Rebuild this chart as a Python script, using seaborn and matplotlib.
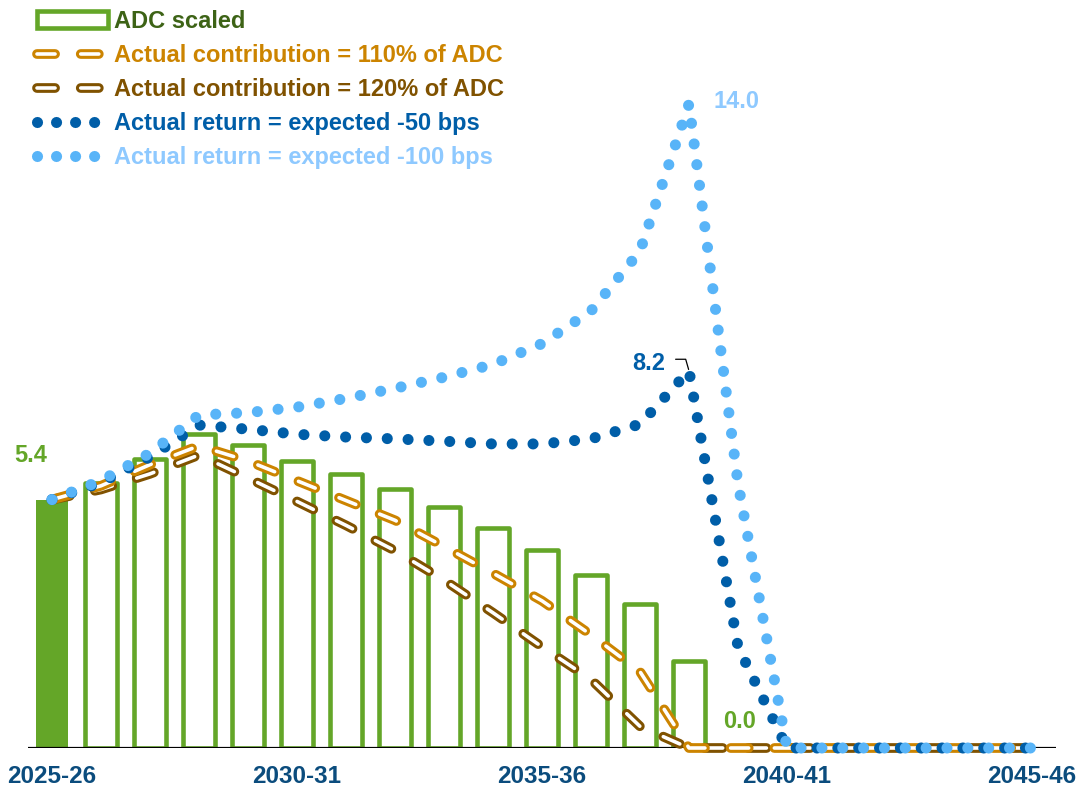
import matplotlib
matplotlib.use("Agg")
import matplotlib.pyplot as plt
import matplotlib.patheffects as pe
from matplotlib.lines import Line2D
from matplotlib.patches import Patch
import numpy as np
import pandas as pd
import seaborn as sns

# ---- data -------------------------------------------------------------
years = [f"{y}-{str(y + 1)[-2:]}" for y in range(2025, 2046)]
adc_years = years[:15]
adc_scaled = [5.4, 5.77, 6.29, 6.83, 6.58, 6.24, 5.96, 5.64, 5.25, 4.78,
              4.31, 3.77, 3.12, 1.89, 0.0]
contrib_110 = [5.4, 5.70, 6.16, 6.57, 6.24, 5.81, 5.38, 4.95, 4.38, 3.80,
               3.20, 2.46, 1.66, 0.0, 0.0, 0.0, 0.0, 0.0, 0.0, 0.0, 0.0]
contrib_120 = [5.4, 5.62, 5.96, 6.37, 5.87, 5.36, 4.84, 4.29, 3.65, 2.94,
               2.20, 1.49, 0.47, 0.0, 0.0, 0.0, 0.0, 0.0, 0.0, 0.0, 0.0]
return_m50 = [5.4, 5.77, 6.33, 7.02, 6.93, 6.82, 6.76, 6.72, 6.67, 6.61,
              6.61, 6.72, 7.04, 8.2, 2.2, 0.0, 0.0, 0.0, 0.0, 0.0, 0.0]
return_m100 = [5.4, 5.81, 6.41, 7.24, 7.29, 7.41, 7.60, 7.82, 8.06, 8.34,
               8.79, 9.50, 10.8, 14.0, 5.75, 0.0, 0.0, 0.0, 0.0, 0.0, 0.0]
tick_years = ["2025-26", "2030-31", "2035-36", "2040-41", "2045-46"]

labels = ["ADC scaled",
          "Actual contribution = 110% of ADC",
          "Actual contribution = 120% of ADC",
          "Actual return = expected -50 bps",
          "Actual return = expected -100 bps"]

# ---- colours ----------------------------------------------------------
GREEN = "#64A628"
GREEN_TXT = "#3D6316"
ORANGE = "#CC8400"
BROWN = "#805200"
DBLUE = "#005EA8"
LBLUE = "#58B4F8"
LBLUE_TXT = "#8EC9FF"
TICK = "#0B4C7D"

sns.set_style("white")
plt.rcParams["font.family"] = ["Liberation Sans", "DejaVu Sans"]
plt.rcParams["lines.scale_dashes"] = False

fig = plt.figure(figsize=(10.8, 7.87), dpi=100)
ax = fig.add_axes([27.5 / 1080, 39 / 787, 1029 / 1080, 736 / 787])

# ---- bars -------------------------------------------------------------
bar_df = pd.DataFrame({"year": adc_years, "adc": adc_scaled})
sns.barplot(data=bar_df, x="year", y="adc", order=years, width=0.66,
            color=GREEN, saturation=1, ax=ax, zorder=2)
for i, p in enumerate(ax.patches):
    if i == 0:
        p.set_facecolor(GREEN)
        p.set_edgecolor(GREEN)
        p.set_linewidth(0)
    else:
        p.set_facecolor("white")
        p.set_edgecolor(GREEN)
        p.set_linewidth(3.3)
        p.set_joinstyle("round")

ax.axhline(0, color="black", lw=1.6, zorder=2.5)

# ---- lines ------------------------------------------------------------
x_idx = np.arange(len(years))
DASH_W, INNER_W, DOT_W = 7.0, 2.6, 8.0
dash_style = (0, (13, 18.5))
dot_style = (0, (0.01, 15))
legend_dot_style = (0, (0.01, 13.7))


def capsule_effect(color):
    return [pe.Stroke(linewidth=DASH_W, foreground=color),
            pe.Stroke(linewidth=INNER_W, foreground="white")]


line_specs = [
    (contrib_120, BROWN, "dash", 3.0),
    (contrib_110, ORANGE, "dash", 3.1),
    (return_m50, DBLUE, "dot", 4.0),
    (return_m100, LBLUE, "dot", 5.0),
]
for vals, color, kind, z in line_specs:
    df = pd.DataFrame({"x": x_idx, "y": vals})
    if kind == "dash":
        sns.lineplot(data=df, x="x", y="y", ax=ax, color=color,
                     linewidth=DASH_W, linestyle=dash_style,
                     dash_capstyle="round",
                     path_effects=capsule_effect(color), zorder=z,
                     clip_on=False, legend=False)
    else:
        sns.lineplot(data=df, x="x", y="y", ax=ax, color=color,
                     linewidth=DOT_W, linestyle=dot_style,
                     dash_capstyle="round",
                     zorder=z, clip_on=False, legend=False)

# ---- value labels -------------------------------------------------------
font = dict(fontsize=17, fontweight="bold")
ax.annotate(f"{adc_scaled[0]:.1f}", xy=(0, adc_scaled[0]),
            xytext=(-15, 32), textcoords="offset points",
            ha="center", va="center", color=GREEN, **font)
ax.annotate(f"{adc_scaled[14]:.1f}", xy=(14, adc_scaled[14]),
            xytext=(1, 19), textcoords="offset points",
            ha="center", va="center", color=GREEN, **font)
ax.annotate(f"{return_m100[13]:.1f}", xy=(13, return_m100[13]),
            xytext=(18, 2), textcoords="offset points",
            ha="left", va="center", color=LBLUE_TXT, **font)
ax.annotate(f"{return_m50[13]:.1f}", xy=(13, return_m50[13]),
            xytext=(-17, 5), textcoords="offset points",
            ha="right", va="center", color=DBLUE, **font,
            arrowprops=dict(arrowstyle="-", color="black", lw=0.9,
                            relpos=(1.0, 0.7), shrinkA=5, shrinkB=1,
                            connectionstyle="angle,angleA=0,angleB=106,rad=0"))

# ---- axes -------------------------------------------------------------
ax.set_xlim(-0.5, 20.5)
ax.set_ylim(0, 16)
ax.set_xticks([years.index(t) for t in tick_years])
ax.set_xticklabels(tick_years, fontsize=17.5, fontweight="bold", color=TICK)
ax.tick_params(axis="x", length=0, pad=12)
ax.set_yticks([])
ax.set_xlabel("")
ax.set_ylabel("")
for s in ax.spines.values():
    s.set_visible(False)

# ---- legend -----------------------------------------------------------
handles = [
    Patch(facecolor="white", edgecolor=GREEN, linewidth=3.3),
    Line2D([], [], color=ORANGE, linewidth=DASH_W, linestyle=dash_style,
           dash_capstyle="round", path_effects=capsule_effect(ORANGE)),
    Line2D([], [], color=BROWN, linewidth=DASH_W, linestyle=dash_style,
           dash_capstyle="round", path_effects=capsule_effect(BROWN)),
    Line2D([], [], color=DBLUE, linewidth=DOT_W, linestyle=legend_dot_style,
           dash_capstyle="round"),
    Line2D([], [], color=LBLUE, linewidth=DOT_W, linestyle=legend_dot_style,
           dash_capstyle="round"),
]
leg = ax.legend(handles, labels, loc="upper left",
                bbox_to_anchor=(37 / 1080, 1 - 10 / 787),
                bbox_transform=fig.transFigure, frameon=False,
                borderpad=0, borderaxespad=0, handlelength=3.0,
                handleheight=0.75, handletextpad=0.25, labelspacing=0.47,
                prop={"weight": "bold", "size": 17},
                labelcolor=[GREEN_TXT, ORANGE, BROWN, DBLUE, LBLUE_TXT])

fig.savefig("out.png", dpi=100)
